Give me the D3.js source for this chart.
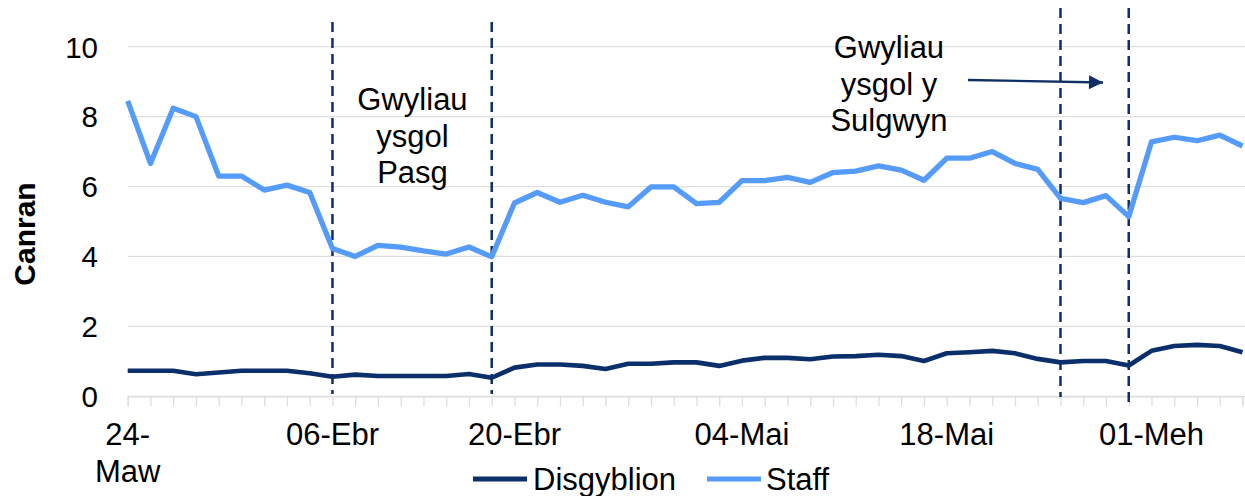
<!DOCTYPE html>
<html>
<head>
<meta charset="utf-8">
<script src="https://cdn.jsdelivr.net/npm/d3@7/dist/d3.min.js"></script>
<style>
  html, body { margin: 0; padding: 0; background: #fff; }
  svg { display: block; }
  text { font-family: "Liberation Sans", Arial, sans-serif; fill: #000; }
</style>
</head>
<body>
<svg id="chart" width="1245" height="496"></svg>
<script>
// ---- data ----
const categories = [
  "24-Maw","25-Maw","28-Maw","29-Maw","30-Maw","31-Maw","01-Ebr","04-Ebr","05-Ebr","06-Ebr",
  "07-Ebr","08-Ebr","11-Ebr","12-Ebr","13-Ebr","14-Ebr","19-Ebr","20-Ebr","21-Ebr","22-Ebr",
  "25-Ebr","26-Ebr","27-Ebr","28-Ebr","29-Ebr","02-Mai","03-Mai","04-Mai","05-Mai","06-Mai",
  "09-Mai","10-Mai","11-Mai","12-Mai","13-Mai","17-Mai","18-Mai","19-Mai","20-Mai","23-Mai",
  "24-Mai","25-Mai","26-Mai","27-Mai","31-Mai","01-Meh","06-Meh","07-Meh","08-Meh","09-Meh"
];
const disgyblion = [
  0.73,0.73,0.73,0.63,0.68,0.73,0.73,0.73,0.66,0.56,
  0.62,0.58,0.58,0.58,0.58,0.64,0.53,0.82,0.91,0.91,
  0.87,0.78,0.93,0.93,0.97,0.97,0.87,1.02,1.10,1.10,
  1.06,1.14,1.15,1.19,1.15,1.01,1.23,1.26,1.30,1.23,
  1.07,0.97,1.01,1.01,0.88,1.30,1.44,1.47,1.44,1.26
];
const staff = [
  8.45,6.66,8.24,8.00,6.30,6.30,5.90,6.04,5.83,4.23,
  4.00,4.32,4.27,4.16,4.07,4.27,3.99,5.53,5.83,5.55,
  5.75,5.55,5.42,5.99,5.99,5.51,5.55,6.17,6.17,6.26,
  6.12,6.40,6.44,6.59,6.47,6.18,6.81,6.81,7.00,6.66,
  6.49,5.66,5.54,5.74,5.14,7.28,7.41,7.31,7.47,7.16
];
const tickLabels = ["24-Maw","06-Ebr","20-Ebr","04-Mai","18-Mai","01-Meh"];
const yTicks = [0,2,4,6,8,10];
const easterLines = ["06-Ebr","19-Ebr"];
const whitsunLines = ["25-Mai","31-Mai"];
const seriesNames = ["Disgyblion","Staff"];
const easterText = ["Gwyliau","ysgol","Pasg"];
const whitsunText = ["Gwyliau","ysgol y","Sulgwyn"];

// ---- layout ----
const svg = d3.select("#chart");
const plotL = 127.7, plotR = 1242.5, plotT = 46.7, plotB = 396.3;
const COL_STAFF = "#559bfa", COL_PUP = "#0b2f6b", COL_DASH = "#0f2f66";

const x = d3.scalePoint().domain(categories).range([plotL, plotR]);
const y = d3.scaleLinear().domain([0, 10]).range([plotB, plotT]);

// gridlines
svg.append("g")
  .selectAll("line").data(yTicks).join("line")
  .attr("x1", plotL).attr("x2", plotR + 3)
  .attr("y1", d => y(d)).attr("y2", d => y(d))
  .attr("stroke", "#dedede").attr("stroke-width", 1.3);

// x axis ticks (gray, down)
const xAxis = d3.axisBottom(x).tickSize(10).tickFormat("");
const gx = svg.append("g").attr("transform", `translate(0,${plotB})`).call(xAxis);
gx.select(".domain").attr("stroke", "#dedede").attr("stroke-width", 1.3);
gx.selectAll(".tick line").attr("stroke", "#dedede").attr("stroke-width", 1.3);

// x labels
const xl = svg.append("g");
tickLabels.forEach(lab => {
  const t = xl.append("text")
    .attr("x", x(lab)).attr("y", 445)
    .attr("text-anchor", "middle").style("font-size", "31px");
  if (lab === categories[0]) {
    const parts = lab.split("-");
    t.append("tspan").attr("x", x(lab)).attr("y", 445).text(parts[0] + "-");
    t.append("tspan").attr("x", x(lab)).attr("y", 482).text(parts[1]);
  } else {
    t.text(lab);
  }
});

// y axis labels
const yAxis = d3.axisLeft(y).tickValues(yTicks).tickSize(0).tickPadding(0);
const gy = svg.append("g").attr("transform", `translate(98,0)`).call(yAxis);
gy.select(".domain").remove();
gy.selectAll(".tick text")
  .style("font-size", "29.5px")
  .style("font-family", "'Liberation Sans', Arial, sans-serif")
  .attr("fill", "#000").attr("dy", "0.35em");

// y title
svg.append("text")
  .attr("transform", `translate(35,234) rotate(-90)`)
  .attr("text-anchor", "middle")
  .style("font-size", "30px").style("font-weight", "bold")
  .text("Canran");

// dashed lines
svg.append("g").selectAll("line").data(easterLines).join("line")
  .attr("x1", d => x(d)).attr("x2", d => x(d))
  .attr("y1", 22).attr("y2", 394)
  .attr("stroke", COL_DASH).attr("stroke-width", 2.5).attr("stroke-dasharray", "10,6");
svg.append("g").selectAll("line").data(whitsunLines).join("line")
  .attr("x1", d => x(d)).attr("x2", d => x(d))
  .attr("y1", 8).attr("y2", (d, i) => i === 0 ? 397 : 403)
  .attr("stroke", COL_DASH).attr("stroke-width", 2.5).attr("stroke-dasharray", "10,6");

// lines
const line = d3.line().x((d, i) => x(categories[i])).y(d => y(d)).curve(d3.curveLinear);
svg.append("path").datum(disgyblion)
  .attr("d", line).attr("fill", "none")
  .attr("stroke", COL_PUP).attr("stroke-width", 4.6).attr("stroke-linejoin", "round");
svg.append("path").datum(staff)
  .attr("d", line).attr("fill", "none")
  .attr("stroke", COL_STAFF).attr("stroke-width", 5.3).attr("stroke-linejoin", "round");

// annotations
const a1 = svg.append("text").attr("text-anchor", "middle").style("font-size", "31px");
easterText.forEach((t, i) => a1.append("tspan").attr("x", 412.5).attr("y", 110 + i * 36.5).text(t));
const a2 = svg.append("text").attr("text-anchor", "middle").style("font-size", "31px");
whitsunText.forEach((t, i) => a2.append("tspan").attr("x", 889).attr("y", 58.3 + i * 36.5).text(t));

// arrow
svg.append("defs").append("marker")
  .attr("id", "ah").attr("viewBox", "0 0 10 10").attr("refX", 10).attr("refY", 5)
  .attr("markerUnits", "userSpaceOnUse").attr("markerWidth", 16).attr("markerHeight", 14)
  .attr("orient", "auto")
  .append("path").attr("d", "M0,0 L10,5 L0,10 Z").attr("fill", COL_DASH);
svg.append("line")
  .attr("x1", 968).attr("y1", 80).attr("x2", 1103).attr("y2", 82.5)
  .attr("stroke", COL_DASH).attr("stroke-width", 2.3).attr("marker-end", "url(#ah)");

// legend
const legend = svg.append("g");
const legItems = [
  {name: seriesNames[0], color: COL_PUP, x0: 473, tx: 533},
  {name: seriesNames[1], color: COL_STAFF, x0: 707, tx: 766}
];
legItems.forEach(it => {
  legend.append("line").attr("x1", it.x0).attr("x2", it.x0 + 54)
    .attr("y1", 479).attr("y2", 479)
    .attr("stroke", it.color).attr("stroke-width", 5);
  legend.append("text").attr("x", it.tx).attr("y", 489.5)
    .style("font-size", "31px").text(it.name);
});
</script>
</body>
</html>
